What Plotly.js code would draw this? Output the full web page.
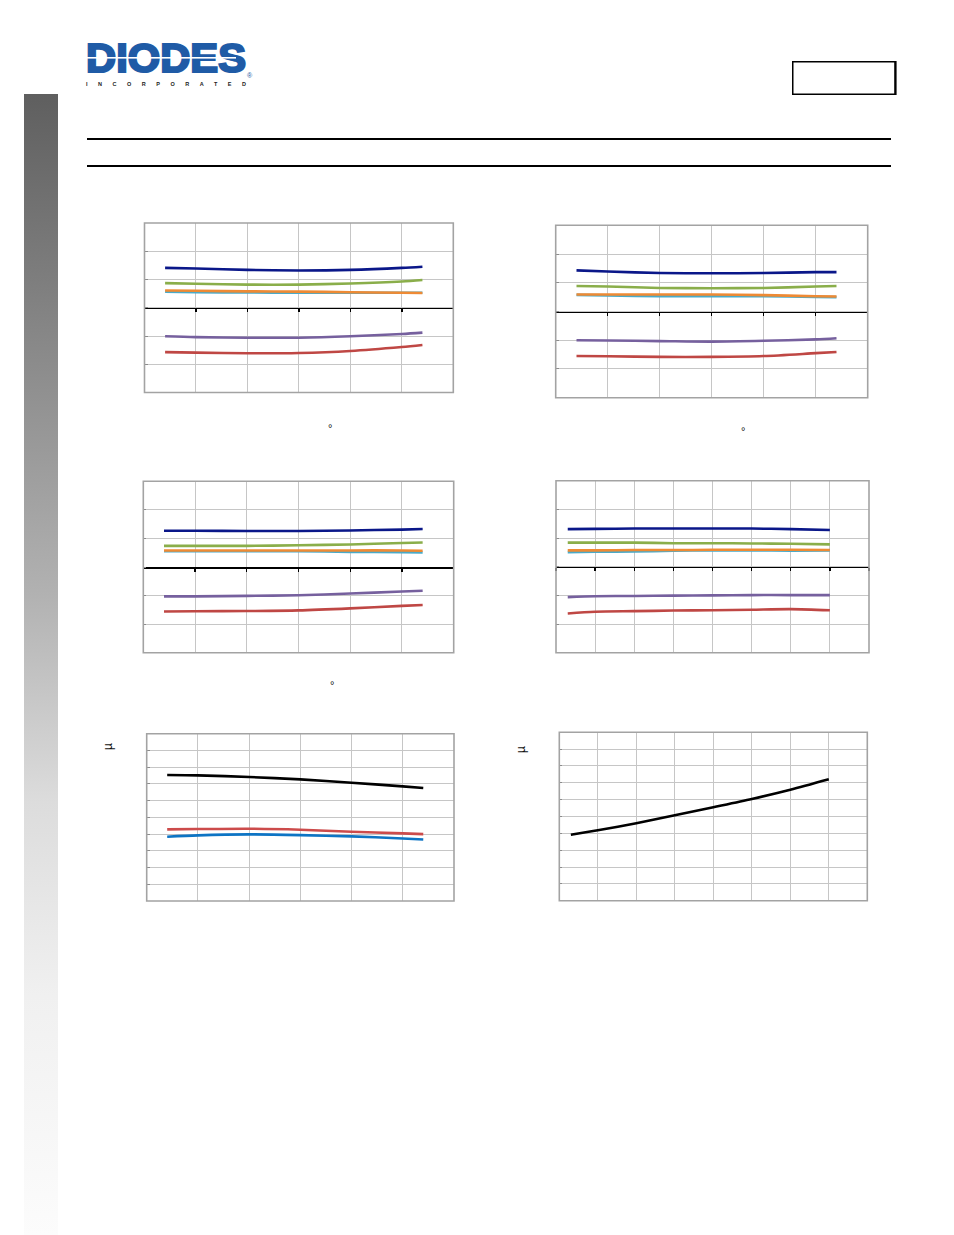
<!DOCTYPE html>
<html>
<head>
<meta charset="utf-8">
<script src="https://cdn.plot.ly/plotly-3.0.1.min.js"></script>
<style>
html,body{margin:0;padding:0;background:#ffffff;}
#wrap{position:relative;width:954px;height:1235px;overflow:hidden;background:#ffffff;}
#plot{position:absolute;left:0;top:0;width:954px;height:1235px;}
#deco{position:absolute;left:0;top:0;pointer-events:none;}
</style>
</head>
<body>
<div id="wrap">
<div id="plot"></div>
<svg id="deco" width="954" height="1235" xmlns="http://www.w3.org/2000/svg">
  <defs>
    <linearGradient id="sb" x1="0" y1="0" x2="0" y2="1">
      <stop offset="0" stop-color="#5f5f5f"/>
      <stop offset="0.44" stop-color="#b2b2b2"/>
      <stop offset="0.62" stop-color="#dcdcdc"/>
      <stop offset="0.79" stop-color="#f0f0f0"/>
      <stop offset="1" stop-color="#fcfcfc"/>
    </linearGradient>
  </defs>
  <rect x="24" y="94" width="34" height="1141" fill="url(#sb)"/>
  <text x="86" y="72" font-family="Liberation Sans, Arial, sans-serif" font-weight="bold" font-size="40" fill="#1f5ba6" stroke="#1f5ba6" stroke-width="2.2" stroke-linejoin="miter" textLength="160" lengthAdjust="spacingAndGlyphs">DIODES</text>
  <rect x="86" y="57" width="150" height="1.6" fill="#ffffff"/>
  <text x="86" y="86" font-family="Liberation Sans, Arial, sans-serif" font-weight="bold" font-size="5.5" fill="#222222" textLength="160" lengthAdjust="spacing">INCORPORATED</text>
  <text x="247" y="78" font-family="Liberation Sans, Arial, sans-serif" font-size="7" fill="#1f5ba6">®</text>
  <rect x="792.75" y="61.75" width="102.5" height="32.5" fill="none" stroke="#000000" stroke-width="1.5"/>
  <line x1="895.5" y1="61" x2="895.5" y2="95" stroke="#000000" stroke-width="2.2"/>
  <line x1="87" y1="139" x2="891" y2="139" stroke="#000000" stroke-width="2"/>
  <line x1="87" y1="166" x2="891" y2="166" stroke="#000000" stroke-width="2"/>
</svg>
</div>
<script>
// ---------- data ----------
const tempC = [-40, -25, 0, 25, 50, 75, 85];
const vdd = [2.15, 2.5, 3.0, 3.5, 4.0, 4.5, 5.0, 5.5];

// chart 1 (vs temperature)
const c1Blue   = [1.41, 1.39, 1.34, 1.32, 1.34, 1.41, 1.45];
const c1Green  = [0.87, 0.85, 0.82, 0.82, 0.86, 0.93, 0.98];
const c1Cyan   = [0.57, 0.55, 0.54, 0.53, 0.53, 0.53, 0.53];
const c1Orange = [0.61, 0.60, 0.58, 0.57, 0.55, 0.53, 0.52];
const c1Purple = [-1.01, -1.04, -1.06, -1.06, -1.01, -0.93, -0.88];
const c1Red    = [-1.57, -1.59, -1.61, -1.60, -1.53, -1.39, -1.32];

// chart 2 (vs temperature)
const c2Blue   = [1.43, 1.39, 1.34, 1.33, 1.34, 1.37, 1.37];
const c2Green  = [0.89, 0.87, 0.82, 0.81, 0.82, 0.87, 0.89];
const c2Cyan   = [0.58, 0.56, 0.53, 0.53, 0.53, 0.51, 0.50];
const c2Orange = [0.59, 0.59, 0.59, 0.59, 0.57, 0.53, 0.52];
const c2Purple = [-1.00, -1.01, -1.03, -1.05, -1.02, -0.97, -0.93];
const c2Red    = [-1.55, -1.56, -1.58, -1.58, -1.55, -1.45, -1.41];

// chart 3 (vs temperature)
const c3Blue   = [1.27, 1.27, 1.26, 1.26, 1.28, 1.31, 1.33];
const c3Green  = [0.74, 0.74, 0.74, 0.76, 0.79, 0.84, 0.86];
const c3Cyan   = [0.55, 0.55, 0.55, 0.55, 0.53, 0.52, 0.51];
const c3Orange = [0.58, 0.58, 0.58, 0.58, 0.58, 0.58, 0.57];
const c3Purple = [-1.03, -1.03, -1.01, -0.99, -0.93, -0.86, -0.83];
const c3Red    = [-1.56, -1.55, -1.54, -1.52, -1.45, -1.36, -1.33];

// chart 4 (vs supply voltage)
const c4Blue   = [1.31, 1.32, 1.33, 1.33, 1.33, 1.33, 1.31, 1.28];
const c4Green  = [0.84, 0.84, 0.84, 0.82, 0.82, 0.81, 0.80, 0.78];
const c4Cyan   = [0.51, 0.52, 0.53, 0.56, 0.57, 0.57, 0.56, 0.57];
const c4Orange = [0.57, 0.57, 0.58, 0.58, 0.59, 0.59, 0.59, 0.58];
const c4Purple = [-1.06, -1.03, -1.02, -1.01, -1.00, -0.99, -0.99, -0.99];
const c4Red    = [-1.63, -1.57, -1.55, -1.53, -1.52, -1.50, -1.48, -1.52];

// chart 5 (current vs temperature)
const c5Black = [7.53, 7.51, 7.41, 7.27, 7.07, 6.85, 6.75];
const c5Red   = [4.28, 4.30, 4.32, 4.26, 4.14, 4.04, 4.00];
const c5Blue  = [3.84, 3.92, 3.98, 3.94, 3.86, 3.74, 3.68];

// chart 6 (current vs supply voltage)
const c6Black = [3.92, 4.18, 4.60, 5.07, 5.55, 6.04, 6.59, 7.21];

// axis ranges
const tempRange = [-50, 100], tempStep = 25;
const vddRange = [2.0, 6.0], vddStep = 0.5;
const errRange = [-3, 3], errStep = 1;
const curRange = [0, 10], curStep = 1;

// ---------- styling / layout ----------
const W = 954, H = 1235;
const COL = {blue:'#0a1789', green:'#8aae4a', cyan:'#4aaac8', orange:'#ee8a34', purple:'#76609e', red:'#bf4744', black:'#000000', blue2:'#0d74c4', red2:'#cc4b4b'};
// pixel plot boxes [left, right, top, bottom]
const boxes = [
  [144.5, 453.3, 223.0, 392.5],
  [555.7, 867.7, 225.3, 397.7],
  [143.3, 453.7, 481.3, 652.7],
  [556.0, 869.0, 480.7, 652.7],
  [146.7, 454.0, 733.7, 901.0],
  [559.3, 867.3, 732.3, 900.7]
];
const charts = [
  {x: tempC, xr: tempRange, xs: tempStep, yr: errRange, ys: errStep, zero: true,
   s: [[c1Blue,'blue'],[c1Green,'green'],[c1Cyan,'cyan'],[c1Orange,'orange'],[c1Purple,'purple'],[c1Red,'red']]},
  {x: tempC, xr: tempRange, xs: tempStep, yr: errRange, ys: errStep, zero: true,
   s: [[c2Blue,'blue'],[c2Green,'green'],[c2Cyan,'cyan'],[c2Orange,'orange'],[c2Purple,'purple'],[c2Red,'red']]},
  {x: tempC, xr: tempRange, xs: tempStep, yr: errRange, ys: errStep, zero: true,
   s: [[c3Blue,'blue'],[c3Green,'green'],[c3Cyan,'cyan'],[c3Orange,'orange'],[c3Purple,'purple'],[c3Red,'red']]},
  {x: vdd, xr: vddRange, xs: vddStep, yr: errRange, ys: errStep, zero: true,
   s: [[c4Blue,'blue'],[c4Green,'green'],[c4Cyan,'cyan'],[c4Orange,'orange'],[c4Purple,'purple'],[c4Red,'red']]},
  {x: tempC, xr: tempRange, xs: tempStep, yr: curRange, ys: curStep, zero: false,
   s: [[c5Black,'black'],[c5Red,'red2'],[c5Blue,'blue2']]},
  {x: vdd, xr: vddRange, xs: vddStep, yr: curRange, ys: curStep, zero: false,
   s: [[c6Black,'black']]}
];

const data = [];
const layout = {
  width: W, height: H,
  margin: {l:0, r:0, t:0, b:0, pad:0},
  paper_bgcolor: '#ffffff', plot_bgcolor: '#ffffff',
  showlegend: false,
  shapes: [], annotations: []
};

charts.forEach((c, i) => {
  const n = i + 1;
  const xa = 'xaxis' + (n === 1 ? '' : n), ya = 'yaxis' + (n === 1 ? '' : n);
  const xr = 'x' + (n === 1 ? '' : n), yr = 'y' + (n === 1 ? '' : n);
  const b = boxes[i];
  const xd = [b[0] / W, b[1] / W];
  const yd = [1 - b[3] / H, 1 - b[2] / H];
  const xaxis = {
    domain: xd, range: c.xr, dtick: c.xs, tick0: c.xr[0],
    showgrid: true, gridcolor: '#c6c6c6', gridwidth: 1,
    zeroline: false, showticklabels: false, fixedrange: true
  };
  if (c.zero) {
    const frac = (0 - c.yr[0]) / (c.yr[1] - c.yr[0]);
    Object.assign(xaxis, {
      anchor: 'free', position: yd[0] + frac * (yd[1] - yd[0]),
      showline: true, linecolor: '#000000', linewidth: 1.6,
      ticks: 'outside', ticklen: 3, tickwidth: 1.4, tickcolor: '#000000'
    });
  } else {
    Object.assign(xaxis, {anchor: yr, showline: false, ticks: ''});
  }
  layout[xa] = xaxis;
  layout[ya] = {
    domain: yd, anchor: xr, range: c.yr, dtick: c.ys, tick0: c.yr[0],
    showgrid: true, gridcolor: '#c6c6c6', gridwidth: 1,
    zeroline: false, showline: false, showticklabels: false,
    ticks: 'inside', ticklen: 3, tickcolor: '#8c8c8c', tickwidth: 1, fixedrange: true
  };
  layout.shapes.push({
    type: 'rect', xref: xr + ' domain', yref: yr + ' domain',
    x0: 0, x1: 1, y0: 0, y1: 1, layer: 'above',
    line: {color: '#a3a3a3', width: 1.6}, fillcolor: 'rgba(0,0,0,0)'
  });
  c.s.forEach(([vals, col]) => {
    data.push({
      type: 'scatter', mode: 'lines', x: c.x, y: vals,
      xaxis: xr, yaxis: yr, hoverinfo: 'skip',
      line: {color: COL[col], width: 2.6, shape: 'spline', smoothing: 0.8}
    });
  });
});

// residual text marks from the original page
const marks = [
  {t: '°', px: 330, py: 428, a: 0, s: 11},
  {t: '°', px: 743, py: 431, a: 0, s: 11},
  {t: '°', px: 332, py: 685, a: 0, s: 11},
  {t: 'µ', px: 108, py: 747, a: -90, s: 12},
  {t: 'µ', px: 521, py: 750, a: -90, s: 12}
];
marks.forEach(m => {
  layout.annotations.push({
    xref: 'paper', yref: 'paper', x: m.px / W, y: 1 - m.py / H,
    text: m.t, showarrow: false, textangle: m.a,
    xanchor: 'center', yanchor: 'middle',
    font: {family: 'Liberation Sans, Arial, sans-serif', size: m.s, color: '#111111'}
  });
});

Plotly.newPlot('plot', data, layout, {staticPlot: true, displayModeBar: false});
</script>
</body>
</html>
